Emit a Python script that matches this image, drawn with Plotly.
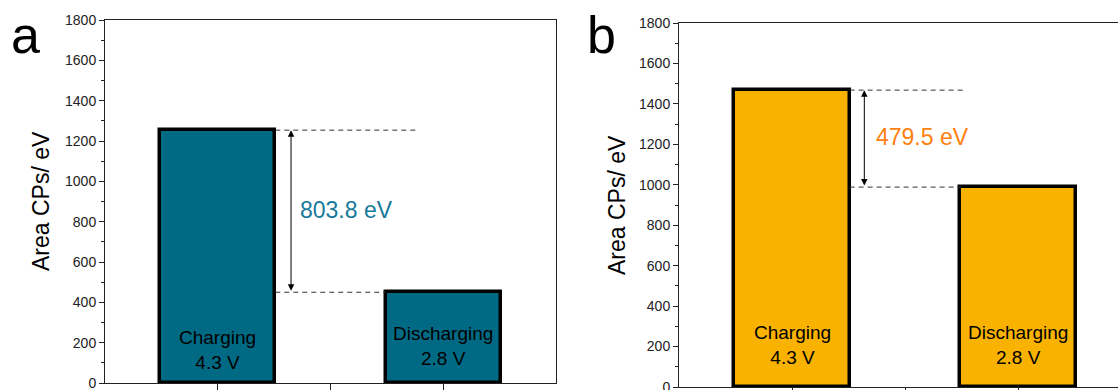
import plotly.graph_objects as go

# ---- data ----
categories = ["Charging<br>4.3 V", "Discharging<br>2.8 V"]
x_pos = [1, 3]
values_a = [1253.8, 450.0]
values_b = [1468.0, 988.5]
diff_a_label = "803.8 eV"
diff_b_label = "479.5 eV"
y_ticks = [0, 200, 400, 600, 800, 1000, 1200, 1400, 1600, 1800]

TEAL = "#006a85"
GOLD = "#f9b200"
TEAL_TXT = "#17799a"
ORANGE_TXT = "#ff7f0e"
FONT = "Liberation Sans, Arial, sans-serif"

W, H = 1118, 390
fig = go.Figure()

fig.add_trace(go.Bar(x=x_pos, y=values_a, width=1.02, marker=dict(color=TEAL, line=dict(color="black", width=3.5)),
                     xaxis="x", yaxis="y", showlegend=False, hoverinfo="skip"))
fig.add_trace(go.Bar(x=x_pos, y=values_b, width=1.02, marker=dict(color=GOLD, line=dict(color="black", width=3.5)),
                     xaxis="x2", yaxis="y2", showlegend=False, hoverinfo="skip"))

def px_x(p):
    return p / W

def px_y(p):
    return (H - p) / H

yax = dict(range=[0, 1800], tickvals=y_ticks, ticks="outside", ticklen=5, tickwidth=1, tickcolor="#222",
           showline=True, linecolor="#222", linewidth=1, showgrid=False, zeroline=False, automargin=False,
           ticklabeloverflow="allow",
           tickfont=dict(family=FONT, size=14, color="#222"),
           minor=dict(dtick=100, ticks="outside", ticklen=3, tickcolor="#222", showgrid=False))
xax = dict(tickvals=[1, 2, 3], ticks="outside", ticklen=7, tickcolor="#222", showticklabels=False, automargin=False,
           showline=True, linecolor="#222", linewidth=1, showgrid=False, zeroline=False, mirror=True)

fig.update_layout(
    width=W, height=H, margin=dict(l=0, r=0, t=0, b=0, autoexpand=False),
    plot_bgcolor="white", paper_bgcolor="white", bargap=0,
    xaxis=dict(xax, domain=[px_x(105), px_x(556)], range=[0, 4], anchor="y"),
    yaxis=dict(yax, domain=[px_y(383), px_y(20)], anchor="x", mirror=True),
    xaxis2=dict(xax, domain=[px_x(679), 1.0], range=[0, (1118 - 679) / 113.0], anchor="y2"),
    yaxis2=dict(yax, domain=[px_y(387), px_y(23)], anchor="x2", mirror=False),
)

ann = []
# panel letters
ann.append(dict(text="a", xref="paper", yref="paper", x=px_x(9), y=px_y(35), xanchor="left", yanchor="middle",
                showarrow=False, font=dict(family=FONT, size=52, color="black")))
ann.append(dict(text="b", xref="paper", yref="paper", x=px_x(585), y=px_y(35), xanchor="left", yanchor="middle",
                showarrow=False, font=dict(family=FONT, size=52, color="black")))
# y titles
ann.append(dict(text="Area CPs/ eV", xref="paper", yref="paper", x=px_x(41), y=px_y(201), textangle=-90,
                xanchor="center", yanchor="middle",
                showarrow=False, font=dict(family=FONT, size=23, color="black")))
ann.append(dict(text="Area CPs/ eV", xref="paper", yref="paper", x=px_x(617), y=px_y(205), textangle=-90,
                xanchor="center", yanchor="middle",
                showarrow=False, font=dict(family=FONT, size=23, color="black")))

# bar labels
for xr, yr, vals_y in (("x", "y", [166, 183]), ("x2", "y2", [208, 208])):
    for xp, cat, ly in zip(x_pos, categories, vals_y):
        ann.append(dict(text=cat, xref=xr, yref=yr, x=xp, y=ly, showarrow=False,
                        font=dict(family=FONT, size=19, color="black")))

shapes = []
def diff_marks(xr, yr, vals, arrow_x, top_end, label, color, label_x, label_y):
    hi, lo = vals
    shapes.append(dict(type="line", xref=xr, yref=yr, x0=1.51, x1=top_end, y0=hi, y1=hi,
                       line=dict(color="#333", width=1, dash="5px,4px")))
    shapes.append(dict(type="line", xref=xr, yref=yr, x0=1.51, x1=2.49, y0=lo, y1=lo,
                       line=dict(color="#333", width=1, dash="5px,4px")))
    ann.append(dict(text="", xref=xr, yref=yr, x=arrow_x, y=hi, axref=xr, ayref=yr, ax=arrow_x, ay=lo,
                    showarrow=True, arrowside="end+start", arrowhead=2, arrowsize=1.3, arrowwidth=1,
                    arrowcolor="black", standoff=0, startstandoff=0))
    ann.append(dict(text=label, xref=xr, yref=yr, x=label_x, y=label_y, xanchor="left", showarrow=False,
                    font=dict(family=FONT, size=23, color=color)))

diff_marks("x", "y", values_a, 1.65, 2.77, diff_a_label, TEAL_TXT, 1.71, 858)
diff_marks("x2", "y2", values_b, 1.64, 2.51, diff_b_label, ORANGE_TXT, 1.73, 1236)

fig.update_layout(annotations=ann, shapes=shapes)
fig.write_html("out.html")
